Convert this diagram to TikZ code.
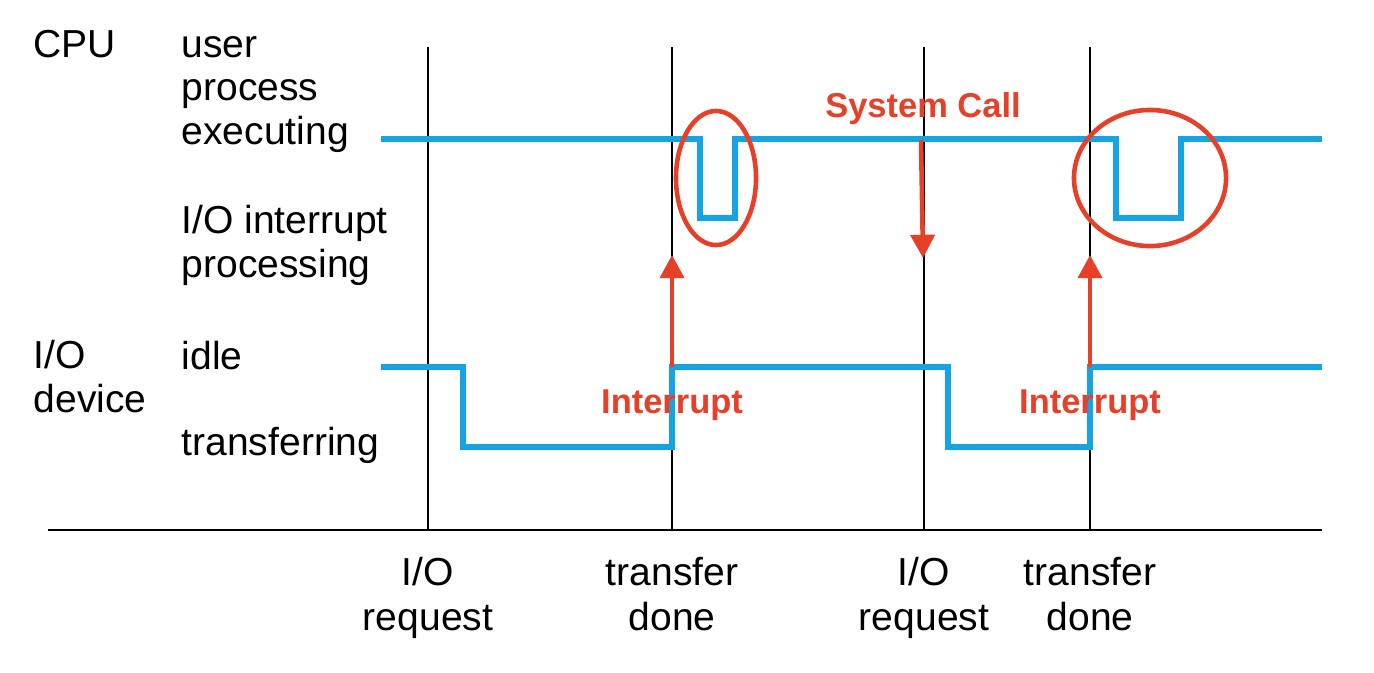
\documentclass[tikz,border=0pt]{standalone}
\usepackage{fontspec}
\setmainfont{Liberation Sans}
\usetikzlibrary{arrows.meta}
\definecolor{sigblue}{RGB}{22,163,226}
\definecolor{callred}{RGB}{232,64,40}
\tikzset{
  lbl/.style={anchor=base west, inner sep=0pt, align=left, font=\fontsize{11.1}{12.3}\selectfont},
  tick/.style={anchor=base, inner sep=0pt, align=center, font=\fontsize{11.1}{12.7}\selectfont},
  note/.style={anchor=base, inner sep=0pt, text=callred, font=\bfseries\fontsize{9.8}{12}\selectfont},
  signal/.style={sigblue, line width=1.6pt},
  event/.style={black, line width=0.6pt},
  hint/.style={callred, line width=1.3pt},
  flag/.style={callred, line width=1.3pt, -{Triangle[width=6.8pt, length=6.6pt]}},
}
\begin{document}
\begin{tikzpicture}[x=0.01cm, y=-0.01cm]
    \useasboundingbox (0,0) rectangle (1374,672);

    % time axis and event lines
    \draw[event] (48,530) coordinate (axisL) -- (1322,530) coordinate (axisR);
    \foreach \name/\x in {req1/428, done1/672, req2/924, done2/1090}
        \draw[event] (\x,47) coordinate (\name top) -- (\x,530) coordinate (\name);

    % row labels (base = last line)
    \node[lbl] (cpu) at (33,57) {CPU};
    \node[lbl] (user) at (181,144) {user\\process\\executing};
    \node[lbl] (intr) at (181,277) {I/O interrupt\\processing};
    \node[lbl] (dev) at (33,412) {I/O\\device};
    \node[lbl] (idle) at (181,369) {idle};
    \node[lbl] (xfer) at (181,455) {transferring};

    % event labels
    \node[tick] (lreq1) at (428,630) {I/O\\request};
    \node[tick] (ldone1) at (672,630) {transfer\\done};
    \node[tick] (lreq2) at (924,630) {I/O\\request};
    \node[tick] (ldone2) at (1090,630) {transfer\\done};

    % cpu and device signals
    \draw[signal] (381,139) -- (700,139) -- (700,218) -- (735,218) -- (735,139)
        -- (1116,139) -- (1116,218) -- (1181,218) -- (1181,139) -- (1322,139);
    \draw[signal] (381,367) -- (463,367) -- (463,447) -- (672,447) -- (672,367) coordinate (rise1)
        -- (948,367) -- (948,447) -- (1090,447) -- (1090,367) coordinate (rise2) -- (1322,367);

    % interrupt handling
    \draw[hint] (716,178) ellipse [x radius=0.40cm, y radius=0.67cm];
    \draw[hint] (1150,178) ellipse [x radius=0.76cm, y radius=0.68cm];

    \coordinate (irq1) at (672,255);
    \coordinate (irq2) at (1090,255);
    \coordinate (call) at (921,140);
    \coordinate (callTip) at (923,258);
    \draw[flag] (rise1) -- (irq1);
    \draw[flag] (rise2) -- (irq2);
    \draw[flag] (call) -- (callTip);

    \node[note] (sys) at (923,117) {System Call};
    \node[note] (int1) at (672,413) {Interrupt};
    \node[note] (int2) at (1090,413) {Interrupt};
\end{tikzpicture}
\end{document}
